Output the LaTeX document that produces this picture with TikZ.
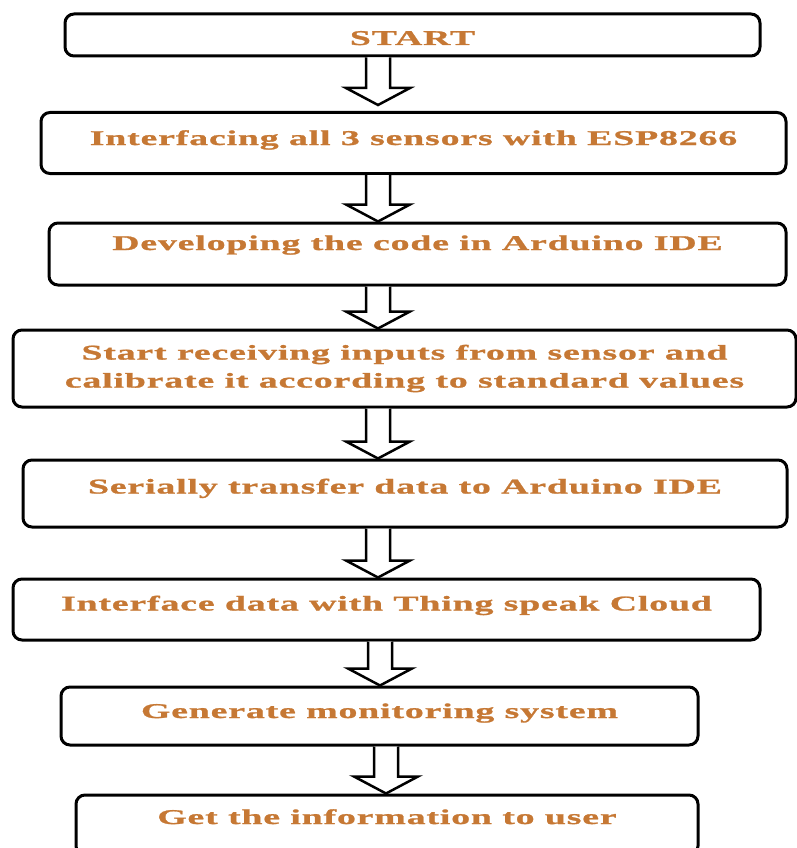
\documentclass[tikz,border=0pt]{standalone}
\usepackage{fontspec}
\usepackage{tikz}
\usetikzlibrary{calc}
\newfontfamily\stepfont[FakeStretch=1.8,LetterSpace=4,FakeBold=1.2]{Liberation Serif}
\definecolor{brownText}{RGB}{198,120,52}

\begin{document}
\begin{tikzpicture}[x=1pt,y=-1pt,
  stepbox/.style={draw=black, line width=3pt, rounded corners=9pt, align=center, inner sep=0pt,
    font=\stepfont\bfseries\fontsize{21}{28}\selectfont, text=brownText},
  lifted/.style={text height=14pt, text depth=#1}]
\useasboundingbox (0,0) rectangle (797,848);
\def\cLine{black}
\def\sw{12}
\def\hw{32}
\def\hh{17}
\node[stepbox, text height=20pt, text depth=0pt, minimum width=695pt, minimum height=42pt] (start) at (412.5,35) {START};
\node[stepbox, lifted=10pt, minimum width=745pt, minimum height=61pt] (iface) at (413.5,143) {Interfacing all 3 sensors with ESP8266};
\node[stepbox, lifted=22pt, minimum width=737pt, minimum height=62pt] (code) at (417.5,254) {Developing the code in Arduino IDE};
\node[stepbox, minimum width=783pt, minimum height=77pt] (recv) at (404.5,368.5) {Start receiving inputs from sensor and\\calibrate it according to standard values};
\node[stepbox, lifted=14pt, minimum width=764pt, minimum height=67pt] (serial) at (405,493.5) {Serially transfer data to Arduino IDE};
\node[stepbox, lifted=12pt, minimum width=747pt, minimum height=61pt] (cloud) at (386.5,609.5) {Interface data with Thing speak Cloud};
\node[stepbox, lifted=10pt, minimum width=637pt, minimum height=58pt] (monitor) at (379.5,716) {Generate monitoring system};
\node[stepbox, lifted=16pt, minimum width=622pt, minimum height=60pt] (user) at (387,825) {Get the information to user};
\def\cx{378}
\def\g{6}
\coordinate (c1) at (\cx,0);
\filldraw[\cLine, fill=white, line width=2.5pt] ($(start.south -| c1)+(-\sw,0)$) -- ($(iface.north -| c1)+(-\sw,-\hh-\g)$) -- ($(iface.north -| c1)+(-\hw,-\hh-\g)$) -- ($(iface.north -| c1)+(0,-\g)$) -- ($(iface.north -| c1)+(\hw,-\hh-\g)$) -- ($(iface.north -| c1)+(\sw,-\hh-\g)$) -- ($(start.south -| c1)+(\sw,0)$);
\def\g{0}
\coordinate (c2) at (\cx,0);
\filldraw[\cLine, fill=white, line width=2.5pt] ($(iface.south -| c2)+(-\sw,0)$) -- ($(code.north -| c2)+(-\sw,-\hh-\g)$) -- ($(code.north -| c2)+(-\hw,-\hh-\g)$) -- ($(code.north -| c2)+(0,-\g)$) -- ($(code.north -| c2)+(\hw,-\hh-\g)$) -- ($(code.north -| c2)+(\sw,-\hh-\g)$) -- ($(iface.south -| c2)+(\sw,0)$);
\coordinate (c3) at (\cx,0);
\filldraw[\cLine, fill=white, line width=2.5pt] ($(code.south -| c3)+(-\sw,0)$) -- ($(recv.north -| c3)+(-\sw,-\hh-\g)$) -- ($(recv.north -| c3)+(-\hw,-\hh-\g)$) -- ($(recv.north -| c3)+(0,-\g)$) -- ($(recv.north -| c3)+(\hw,-\hh-\g)$) -- ($(recv.north -| c3)+(\sw,-\hh-\g)$) -- ($(code.south -| c3)+(\sw,0)$);
\coordinate (c4) at (\cx,0);
\filldraw[\cLine, fill=white, line width=2.5pt] ($(recv.south -| c4)+(-\sw,0)$) -- ($(serial.north -| c4)+(-\sw,-\hh-\g)$) -- ($(serial.north -| c4)+(-\hw,-\hh-\g)$) -- ($(serial.north -| c4)+(0,-\g)$) -- ($(serial.north -| c4)+(\hw,-\hh-\g)$) -- ($(serial.north -| c4)+(\sw,-\hh-\g)$) -- ($(recv.south -| c4)+(\sw,0)$);
\coordinate (c5) at (\cx,0);
\filldraw[\cLine, fill=white, line width=2.5pt] ($(serial.south -| c5)+(-\sw,0)$) -- ($(cloud.north -| c5)+(-\sw,-\hh-\g)$) -- ($(cloud.north -| c5)+(-\hw,-\hh-\g)$) -- ($(cloud.north -| c5)+(0,-\g)$) -- ($(cloud.north -| c5)+(\hw,-\hh-\g)$) -- ($(cloud.north -| c5)+(\sw,-\hh-\g)$) -- ($(serial.south -| c5)+(\sw,0)$);
\def\cx{380}
\coordinate (c6) at (\cx,0);
\filldraw[\cLine, fill=white, line width=2.5pt] ($(cloud.south -| c6)+(-\sw,0)$) -- ($(monitor.north -| c6)+(-\sw,-\hh-\g)$) -- ($(monitor.north -| c6)+(-\hw,-\hh-\g)$) -- ($(monitor.north -| c6)+(0,-\g)$) -- ($(monitor.north -| c6)+(\hw,-\hh-\g)$) -- ($(monitor.north -| c6)+(\sw,-\hh-\g)$) -- ($(cloud.south -| c6)+(\sw,0)$);
\def\cx{386}
\coordinate (c7) at (\cx,0);
\filldraw[\cLine, fill=white, line width=2.5pt] ($(monitor.south -| c7)+(-\sw,0)$) -- ($(user.north -| c7)+(-\sw,-\hh-\g)$) -- ($(user.north -| c7)+(-\hw,-\hh-\g)$) -- ($(user.north -| c7)+(0,-\g)$) -- ($(user.north -| c7)+(\hw,-\hh-\g)$) -- ($(user.north -| c7)+(\sw,-\hh-\g)$) -- ($(monitor.south -| c7)+(\sw,0)$);
\end{tikzpicture}
\end{document}
